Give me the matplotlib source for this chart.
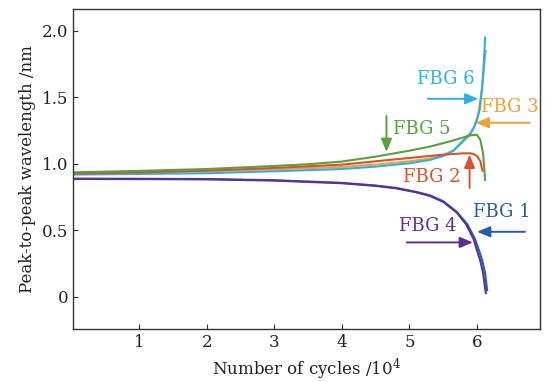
import matplotlib
matplotlib.use('Agg')
import matplotlib.pyplot as plt

plt.rcParams['font.family'] = 'DejaVu Serif'
plt.rcParams['mathtext.fontset'] = 'dejavuserif'

# FBG 1 (blue)
x1 = [0, 1, 2, 3, 4, 4.5, 4.8, 5.1, 5.3, 5.5, 5.7, 5.86, 5.97, 6.03, 6.08, 6.12, 6.15]
y1 = [0.89, 0.889, 0.887, 0.878, 0.858, 0.838, 0.82, 0.79, 0.765, 0.72, 0.64, 0.545, 0.435, 0.35, 0.27, 0.18, 0.05]
# FBG 2 (red)
x2 = [0, 1, 2, 3, 4, 4.5, 5, 5.5, 5.8, 5.9, 5.95, 6.0, 6.05, 6.08]
y2 = [0.927, 0.937, 0.95, 0.97, 0.995, 1.02, 1.045, 1.07, 1.08, 1.08, 1.075, 1.06, 1.02, 0.95]
# FBG 3 (orange)
x3 = [0, 1, 2, 3, 4, 4.5, 5, 5.3, 5.5, 5.65, 5.8, 5.9, 5.96, 6.02, 6.07, 6.1, 6.13]
y3 = [0.927, 0.935, 0.945, 0.96, 0.978, 0.995, 1.02, 1.04, 1.065, 1.10, 1.17, 1.22, 1.28, 1.38, 1.55, 1.70, 1.85]
# FBG 4 (purple)
x4 = [0, 1, 2, 3, 4, 4.5, 4.8, 5.1, 5.3, 5.5, 5.7, 5.84, 5.95, 6.0, 6.05, 6.09, 6.13]
y4 = [0.887, 0.886, 0.884, 0.875, 0.855, 0.835, 0.817, 0.787, 0.76, 0.715, 0.635, 0.545, 0.435, 0.35, 0.27, 0.18, 0.03]
# FBG 5 (green)
x5 = [0, 1, 2, 3, 3.5, 4, 4.5, 5, 5.3, 5.6, 5.8, 5.9, 6.0, 6.05, 6.09, 6.12]
y5 = [0.937, 0.948, 0.962, 0.985, 0.998, 1.018, 1.055, 1.1, 1.13, 1.17, 1.20, 1.215, 1.22, 1.18, 1.08, 0.88]
# FBG 6 (cyan)
x6 = [0, 1, 2, 3, 4, 4.5, 5, 5.3, 5.5, 5.65, 5.8, 5.9, 5.95, 6.0, 6.04, 6.08, 6.1, 6.12]
y6 = [0.92, 0.925, 0.93, 0.945, 0.962, 0.98, 1.005, 1.03, 1.06, 1.10, 1.18, 1.23, 1.27, 1.33, 1.41, 1.6, 1.75, 1.95]

c_blue = '#1f63b3'
c_red = '#d8502e'
c_orange = '#eea035'
c_purple = '#5e2e94'
c_green = '#58a03c'
c_cyan = '#2cb0e6'

fig = plt.figure(figsize=(5.46, 3.82), dpi=100)
ax = fig.add_axes([0.1337, 0.1387, 0.855, 0.8377])

lw = 1.5
ax.plot(x1, y1, color=c_blue, lw=lw)
ax.plot(x4, y4, color=c_purple, lw=lw)
ax.plot(x3, y3, color=c_orange, lw=lw)
ax.plot(x6, y6, color=c_cyan, lw=lw)
ax.plot(x2, y2, color=c_red, lw=lw)
ax.plot(x5, y5, color=c_green, lw=lw)

ax.set_xlim(0.02, 6.93)
ax.set_ylim(-0.241, 2.165)
ax.set_xticks([1, 2, 3, 4, 5, 6])
ax.set_yticks([0, 0.5, 1.0, 1.5, 2.0])
ax.set_yticklabels(['0', '0.5', '1.0', '1.5', '2.0'])
ax.tick_params(direction='in', length=3.5, labelsize=12, colors='#333333', labelcolor='#222222')
for s in ax.spines.values():
    s.set_color('#333333')
    s.set_linewidth(1.0)

ax.set_xlabel('Number of cycles /10$^4$', fontsize=12, color='#222222', labelpad=4)
ax.set_ylabel('Peak-to-peak wavelength /nm', fontsize=12, color='#222222', labelpad=4)

# labels with arrows: (text, colour, text pos, arrow tail, arrow head)
labels = [
    ('FBG 6', c_cyan, (5.54, 1.64), (5.27, 1.49), (6.02, 1.49)),
    ('FBG 3', c_orange, (6.48, 1.425), (6.78, 1.31), (5.98, 1.31)),
    ('FBG 5', c_green, (5.18, 1.26), (4.66, 1.36), (4.66, 1.09)),
    ('FBG 2', c_red, (5.33, 0.90), (5.89, 0.82), (5.89, 1.07)),
    ('FBG 1', '#2a5aa8', (6.37, 0.64), (6.71, 0.49), (6.00, 0.49)),
    ('FBG 4', c_purple, (5.27, 0.53), (4.96, 0.41), (5.94, 0.41)),
]
for txt, col, tpos, tail, head in labels:
    ax.text(tpos[0], tpos[1], txt, color=col, fontsize=13, ha='center', va='center')
    ax.annotate('', xy=head, xytext=tail,
                arrowprops=dict(arrowstyle='-|>,head_length=0.6,head_width=0.25',
                                color=col, lw=1.4, mutation_scale=13,
                                shrinkA=0, shrinkB=0))

fig.savefig('out.png', dpi=100)
